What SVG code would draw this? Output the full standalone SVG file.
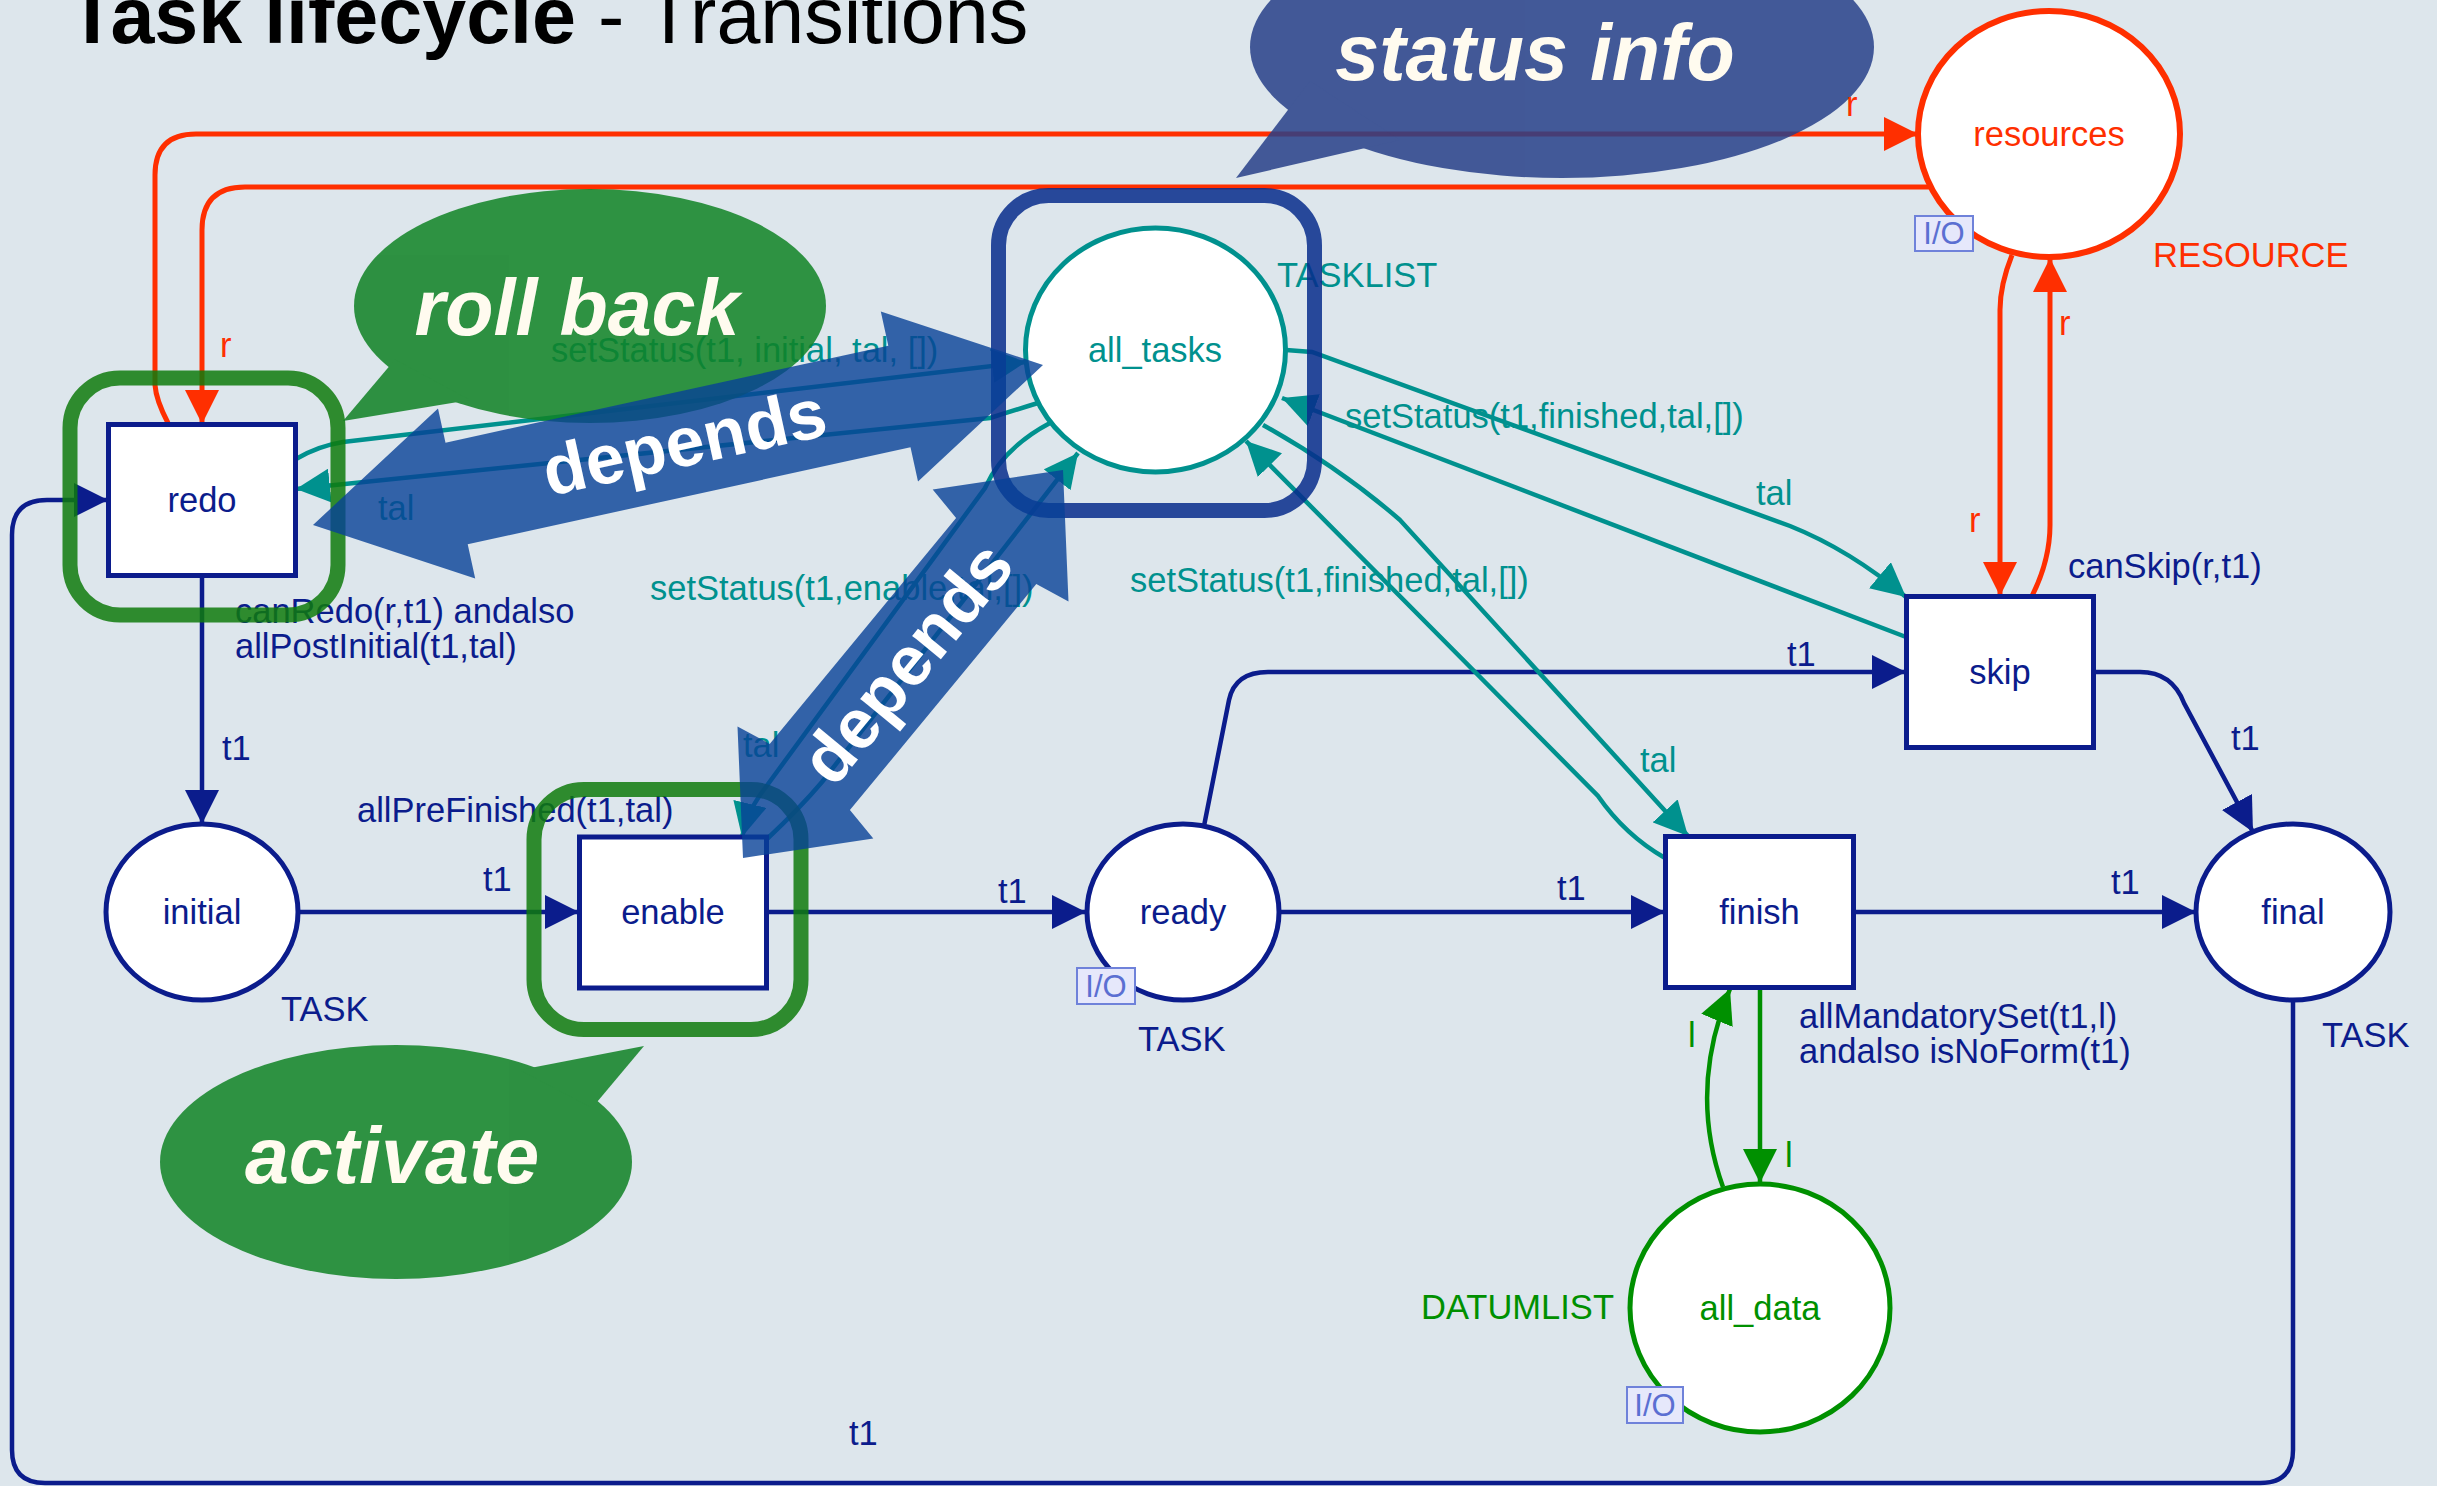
<svg xmlns="http://www.w3.org/2000/svg" width="2437" height="1486" viewBox="0 0 2437 1486">
<defs>
<style>
text{font-family:"Liberation Sans",Arial,Helvetica,sans-serif;font-size:34.5px}
.b{fill:#0b1c8c}.tl{fill:#00918e}.r{fill:#ff2f00}.g{fill:#009000}
.m{text-anchor:middle}
.tr{fill:#fff;stroke:#0b1c8c;stroke-width:5}
.aB{fill:none;stroke:#0b1c8c;stroke-width:4.5}
.aT{fill:none;stroke:#00918e;stroke-width:4.5}
.aR{fill:none;stroke:#ff2f00;stroke-width:5}
.aG{fill:none;stroke:#009000;stroke-width:4.5}
.io rect{fill:#e6e8fb;stroke:#6f82da;stroke-width:2}
.io text{fill:#5b6fd2;font-size:31px;text-anchor:middle}
.bub{font-size:79px;font-weight:bold;font-style:italic;fill:#fffbef;text-anchor:middle}
.dep{font-size:70px;font-weight:bold;fill:#fff;text-anchor:middle}
</style>
<marker id="mB" markerUnits="userSpaceOnUse" markerWidth="34" markerHeight="34" viewBox="0 0 34 34" refX="34" refY="17" orient="auto"><path d="M0,0L34,17L0,34z" fill="#0b1c8c"/></marker>
<marker id="mT" markerUnits="userSpaceOnUse" markerWidth="34" markerHeight="34" viewBox="0 0 34 34" refX="34" refY="17" orient="auto"><path d="M0,0L34,17L0,34z" fill="#00918e"/></marker>
<marker id="mR" markerUnits="userSpaceOnUse" markerWidth="34" markerHeight="34" viewBox="0 0 34 34" refX="34" refY="17" orient="auto"><path d="M0,0L34,17L0,34z" fill="#ff2f00"/></marker>
<marker id="mG" markerUnits="userSpaceOnUse" markerWidth="34" markerHeight="34" viewBox="0 0 34 34" refX="34" refY="17" orient="auto"><path d="M0,0L34,17L0,34z" fill="#009000"/></marker>
</defs>
<rect width="2437" height="1486" fill="#dde6ec"/>
<text x="68" y="43" font-size="79" fill="#000" style="font-size:79px"><tspan font-weight="bold">Task lifecycle</tspan> - Transitions</text>

<g id="connectors">
<g class="aB" marker-end="url(#mB)">
<path d="M202,575.5 L202,824"/>
<path d="M298,912 L579,912"/>
<path d="M767,912 L1086,912"/>
<path d="M1279,912 L1665,912"/>
<path d="M1853,912 L2196,912"/>
<path d="M1204,826 L1229,700 Q1235,672 1268,672 L1906,672"/>
<path d="M2094,672 L2140,672 Q2172,672 2184,703 L2253,832"/>
<path d="M2293,1000 L2293,1450 Q2293,1483 2260,1483 L45,1483 Q12,1483 12,1450 L12,535 Q12,500 47,500 L108,500"/>
</g>
<g class="aT" marker-end="url(#mT)">
<path d="M296,459 Q318,446 343,442 L1026,362"/>
<path d="M1038,403 Q1012,411 990,418 L296,489"/>
<path d="M1286,350 L1312,352 L1790,526 Q1850,550 1906,597"/>
<path d="M1906,637 L1282,398"/>
<path d="M1263,425 Q1340,468 1400,520 L1688,836"/>
<path d="M1665,858 Q1625,835 1598,796 L1246,441"/>
<path d="M1050,423 Q1003,448 985,488 L760,795 Q748,812 742,837"/>
<path d="M767,839 Q800,808 822,782 L1078,453"/>
</g>
<g class="aR" marker-end="url(#mR)">
<path d="M168,423 Q156,400 155,385 L155,175 Q155,134 196,134 L1918,134"/>
<path d="M1931,187 L245,187 Q202,187 202,230 L202,424"/>
<path d="M2012,255 Q2000,285 2000,310 L2000,596"/>
<path d="M2032,596 Q2050,560 2050,525 L2050,258"/>
</g>
<g class="aG" marker-end="url(#mG)">
<path d="M1760,988 L1760,1183"/>
<path d="M1723,1187 Q1688,1090 1730,989"/>
</g>
<g class="b">
<text x="222" y="760">t1</text>
<text x="235" y="623">canRedo(r,t1) andalso</text>
<text x="235" y="658">allPostInitial(t1,tal)</text>
<text x="483" y="891">t1</text>
<text x="357" y="822">allPreFinished(t1,tal)</text>
<text x="998" y="903">t1</text>
<text x="1557" y="900">t1</text>
<text x="2111" y="894">t1</text>
<text x="1787" y="666">t1</text>
<text x="2231" y="750">t1</text>
<text x="2068" y="578">canSkip(r,t1)</text>
<text x="1799" y="1028">allMandatorySet(t1,l)</text>
<text x="1799" y="1063">andalso isNoForm(t1)</text>
<text x="849" y="1445">t1</text>
</g>
<g class="tl">
<text x="551" y="362">setStatus(t1, initial, tal, [])</text>
<text x="378" y="520">tal</text>
<text x="650" y="600">setStatus(t1,enable,tal,[])</text>
<text x="743" y="757">tal</text>
<text x="1345" y="428">setStatus(t1,finished,tal,[])</text>
<text x="1756" y="505">tal</text>
<text x="1130" y="592">setStatus(t1,finished,tal,[])</text>
<text x="1640" y="772">tal</text>
</g>
<g class="r">
<text x="220" y="357">r</text>
<text x="2059" y="335">r</text>
<text x="1969" y="532">r</text>
</g>
<g class="g">
<text x="1785" y="1167">l</text>
<text x="1688" y="1047">l</text>
</g>
</g>

<g id="redo"><rect class="tr" x="108.5" y="424.5" width="187" height="151"/><text class="b m" x="202" y="512">redo</text></g>
<g id="enable"><rect class="tr" x="579.5" y="837" width="187" height="151"/><text class="b m" x="673" y="924">enable</text></g>
<g id="finish"><rect class="tr" x="1665.5" y="836.5" width="188" height="151"/><text class="b m" x="1759.5" y="924">finish</text></g>
<g id="skip"><rect class="tr" x="1906.5" y="596.5" width="187" height="151"/><text class="b m" x="2000" y="684">skip</text></g>

<g id="initial"><ellipse class="tr" cx="202" cy="912" rx="96" ry="88"/><text class="b m" x="202" y="924">initial</text><text class="b" x="281" y="1021">TASK</text></g>
<g id="ready"><ellipse class="tr" cx="1183" cy="912" rx="96" ry="88"/><text class="b m" x="1183" y="924">ready</text><text class="b" x="1138" y="1051">TASK</text>
<g class="io"><rect x="1077" y="968" width="58" height="36"/><text x="1106" y="997">I/O</text></g></g>
<g id="final"><ellipse class="tr" cx="2293" cy="912" rx="97" ry="88"/><text class="b m" x="2293" y="924">final</text><text class="b" x="2322" y="1047">TASK</text></g>
<g id="all_tasks"><ellipse cx="1155.5" cy="350" rx="130" ry="122" fill="#fff" stroke="#00918e" stroke-width="5"/><text class="tl m" x="1155" y="362">all_tasks</text><text class="tl" x="1277" y="287">TASKLIST</text></g>
<g id="resources"><ellipse cx="2049" cy="134" rx="131" ry="123" fill="#fff" stroke="#ff2f00" stroke-width="6"/><text class="r m" x="2049" y="146">resources</text><text class="r" x="2153" y="267">RESOURCE</text>
<g class="io"><rect x="1915" y="216" width="58" height="35"/><text x="1944" y="244">I/O</text></g></g>
<g id="all_data"><ellipse cx="1760" cy="1308" rx="130" ry="124" fill="#fff" stroke="#009000" stroke-width="5"/><text class="g m" x="1760" y="1320">all_data</text><text class="g" x="1421" y="1319">DATUMLIST</text>
<g class="io"><rect x="1627" y="1387" width="56" height="36"/><text x="1655" y="1416">I/O</text></g></g>

<g id="annotations">
<rect x="70" y="378" width="268" height="237" rx="50" fill="none" stroke="#0f7a0d" stroke-width="15" stroke-opacity="0.85"/>
<rect x="534" y="789.5" width="267" height="240" rx="50" fill="none" stroke="#0f7a0d" stroke-width="15" stroke-opacity="0.85"/>
<rect x="998.5" y="195.5" width="316" height="315" rx="50" fill="none" stroke="#072b8c" stroke-width="15" stroke-opacity="0.85"/>
<g id="bubble_rollback"><g opacity="0.85" fill="#0f8224"><ellipse cx="590" cy="306" rx="236" ry="117"/><polygon points="395,359.5 343,421 470,400"/></g><text class="bub" x="577" y="335">roll back</text></g>
<g id="bubble_status"><g opacity="0.85" fill="#274089"><ellipse cx="1562" cy="47" rx="312" ry="131"/><polygon points="1310,81 1236,178 1400,140"/></g><text class="bub" x="1535" y="80">status info</text></g>
<g id="bubble_activate"><g opacity="0.85" fill="#0f8224"><ellipse cx="396" cy="1162" rx="236" ry="117"/><polygon points="520,1070 644,1046 592,1108"/></g><text class="bub" x="392" y="1183">activate</text></g>
<text class="r" x="1846" y="116">r</text>
<g id="depends_1"><polygon opacity="0.8" fill="#074197" points="313,525 438,408.5 445.5,442.7 888.3,345.7 880.8,311.5 1043,365 918,481.5 910.5,447.3 467.7,544.3 475.2,578.5"/><text class="dep" transform="translate(684,441) rotate(-12.36)" x="0" y="25">depends</text></g>
<g id="depends_2"><polygon opacity="0.8" fill="#074197" points="743,858 737.5,726.4 769.7,743.9 956.1,517.9 932.7,489.6 1063,470 1068.5,601.6 1036.3,584.1 849.9,810.1 873.3,838.4"/><text class="dep" transform="translate(906,662) rotate(-50.5)" x="0" y="25">depends</text></g>
</g>
</svg>
